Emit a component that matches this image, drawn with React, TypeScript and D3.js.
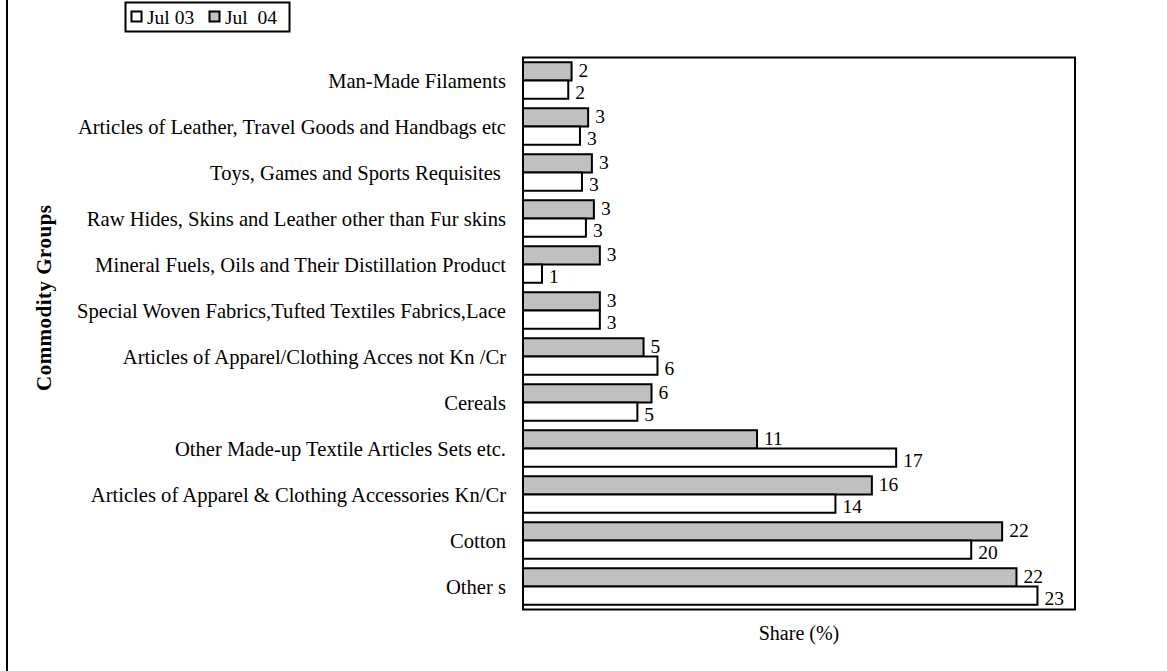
import * as d3 from 'd3';

const categories = [
  'Man-Made Filaments',
  'Articles of Leather, Travel Goods and Handbags etc',
  'Toys, Games and Sports Requisites ',
  'Raw Hides, Skins and Leather other than Fur skins',
  'Mineral Fuels, Oils and Their Distillation Product',
  'Special Woven Fabrics,Tufted Textiles Fabrics,Lace',
  'Articles of Apparel/Clothing Acces not Kn /Cr',
  'Cereals',
  'Other Made-up Textile Articles Sets etc.',
  'Articles of Apparel & Clothing Accessories Kn/Cr',
  'Cotton',
  'Other s',
];

const jul03 = [2.05, 2.58, 2.67, 2.85, 0.86, 3.48, 6.09, 5.18, 16.9, 14.15, 20.3, 23.3];
const jul04 = [2.2, 2.95, 3.12, 3.21, 3.48, 3.48, 5.46, 5.82, 10.6, 15.8, 21.7, 22.35];

const seriesKeys = ['Jul 04', 'Jul 03'];
const legendLabels = ['Jul 03', 'Jul  04'];

const W = 1167;
const H = 671;
const PLOT = { left: 523, top: 57.5, right: 1075, bottom: 609.5 };
const FONT = '"Liberation Serif", "Times New Roman", serif';
const GRAY = '#c0c0c0';

export default function App() {
  const x = d3.scaleLinear().domain([0, 25]).range([PLOT.left, PLOT.right]);
  const y = d3.scaleBand<string>().domain(categories).range([PLOT.top, PLOT.bottom]);
  const ySub = d3
    .scaleBand<string>()
    .domain(seriesKeys)
    .range([0, y.bandwidth()])
    .paddingInner(0)
    .paddingOuter(0.26);

  const rows = categories.map((c, i) => ({ c, j03: jul03[i], j04: jul04[i] }));

  return (
    <svg
      width={W}
      height={H}
      style={{ position: 'absolute', left: 0, top: 0, background: '#fff' }}
      fontFamily={FONT}
    >
      {/* outer frame edge */}
      <line x1={7} x2={7} y1={0} y2={H} stroke="#000" strokeWidth={2} />

      {/* legend */}
      <g>
        <rect x={125.5} y={2.5} width={164} height={29} fill="#fff" stroke="#000" strokeWidth={2} />
        <rect x={131.5} y={11.5} width={10} height={10} fill="#fff" stroke="#000" strokeWidth={2} />
        <text x={147} y={24} fontSize={19.5}>{legendLabels[0]}</text>
        <rect x={209.5} y={11.5} width={10} height={10} fill={GRAY} stroke="#000" strokeWidth={2} />
        <text x={225} y={24} fontSize={19.5} style={{ whiteSpace: 'pre' }}>{legendLabels[1]}</text>
      </g>

      {/* plot area */}
      <rect
        x={PLOT.left}
        y={PLOT.top}
        width={PLOT.right - PLOT.left}
        height={PLOT.bottom - PLOT.top}
        fill="#fff"
        stroke="#000"
        strokeWidth={2}
      />

      {rows.map((r) => {
        const y0 = y(r.c)!;
        const yg = y0 + ySub('Jul 04')!;
        const yw = y0 + ySub('Jul 03')!;
        const h = ySub.bandwidth();
        return (
          <g key={r.c}>
            <rect x={x(0)} y={yg} width={x(r.j04) - x(0)} height={h} fill={GRAY} stroke="#000" strokeWidth={2} />
            <rect x={x(0)} y={yw} width={x(r.j03) - x(0)} height={h} fill="#fff" stroke="#000" strokeWidth={2} />
            <text x={x(r.j04) + 7} y={yg + h / 2 + 6} fontSize={19.5}>
              {Math.round(r.j04)}
            </text>
            <text x={x(r.j03) + 7} y={yw + h / 2 + 9} fontSize={19.5}>
              {Math.round(r.j03)}
            </text>
            <text x={506} y={y0 + y.bandwidth() / 2 + 7} fontSize={20.6} textAnchor="end" style={{ whiteSpace: 'pre' }}>
              {r.c}
            </text>
          </g>
        );
      })}

      {/* axis titles */}
      <text
        transform={`translate(51,298) rotate(-90)`}
        textAnchor="middle"
        fontSize={21}
        fontWeight="bold"
        textLength={186}
        lengthAdjust="spacing"
      >
        Commodity Groups
      </text>
      <text x={(PLOT.left + PLOT.right) / 2} y={640} textAnchor="middle" fontSize={20}>
        Share (%)
      </text>
    </svg>
  );
}
